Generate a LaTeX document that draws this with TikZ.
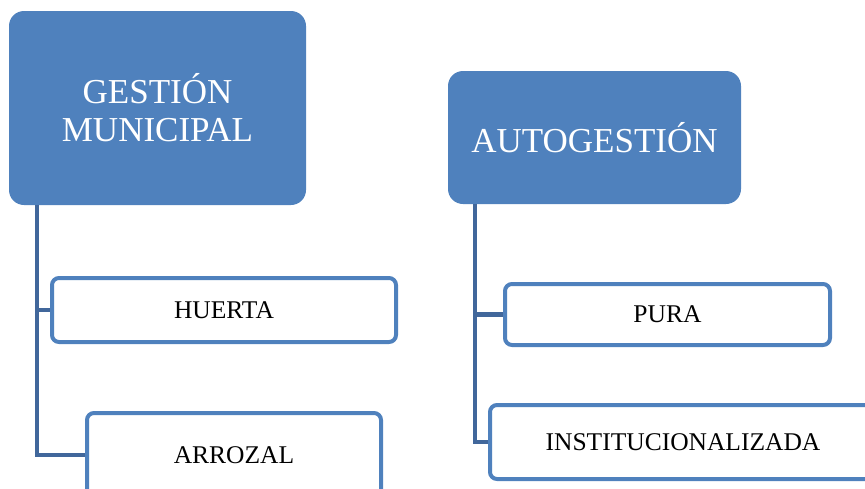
\documentclass[tikz,border=0pt]{standalone}
\usepackage{fontspec}
\setmainfont{Liberation Serif}
\usetikzlibrary{calc}
\definecolor{boxblue}{HTML}{4F81BD}
\definecolor{linkblue}{HTML}{41679B}
\tikzset{
  headbox/.style={fill=boxblue, draw=none, rounded corners=15pt, text=white,
    font=\fontsize{35}{38}\selectfont, align=center, inner sep=0pt},
  itembox/.style={fill=white, draw=boxblue, line width=4pt, rounded corners=7pt,
    text=black, font=\fontsize{25.5}{28}\selectfont, inner sep=0pt},
  link/.style={draw=linkblue, line width=4.5pt}
}
\begin{document}
\begin{tikzpicture}[x=1pt,y=-1pt]
\useasboundingbox (0,0) rectangle (865,488);
\clip (0,0) rectangle (865,488);
% left group
\node[headbox, minimum width=297pt, minimum height=194pt] (gm) at (157.5,108) {GESTIÓN\\MUNICIPAL};
\node[itembox, minimum width=344pt, minimum height=64pt] (hu) at (224,310) {HUERTA};
\node[itembox, minimum width=294pt, minimum height=84pt] (ar) at (234,455) {ARROZAL};
\coordinate (gmroot) at ($(gm.south west)+(28,0)$);
\draw[link] (gmroot) |- (ar.west);
\draw[link] (gmroot |- hu.west) -- (hu.west);
% right group
\node[headbox, minimum width=293pt, minimum height=133pt] (ag) at (594.5,137.5) {AUTOGESTIÓN};
\node[itembox, minimum width=325pt, minimum height=61pt] (pu) at (667.5,314.5) {PURA};
\node[itembox, minimum width=386pt, minimum height=74pt] (in) at (683,442) {INSTITUCIONALIZADA};
\coordinate (agroot) at ($(ag.south west)+(27,0)$);
\draw[link] (agroot) |- (in.west);
\draw[link] (agroot |- pu.west) -- (pu.west);
\end{tikzpicture}
\end{document}
